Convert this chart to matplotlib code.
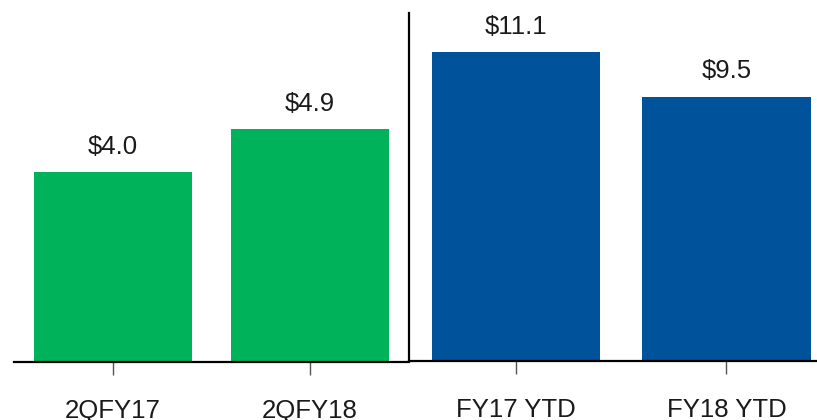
import matplotlib
matplotlib.use("Agg")
from matplotlib import pyplot as plt

plt.rcParams['font.family'] = ['Liberation Sans', 'DejaVu Sans']

# left panel - quarter
quarter_labels = ['2QFY17', '2QFY18']
quarter_values = [4.0, 4.9]

# right panel - year to date
ytd_labels = ['FY17 YTD', 'FY18 YTD']
ytd_values = [11.1, 9.5]

green = '#00B25A'
blue = '#00529B'
W, H = 817, 420

fig = plt.figure(figsize=(W / 100, H / 100), dpi=100)

ax1 = fig.add_axes([14 / W, (H - 362) / H, 395 / W, 362 / H])
ax2 = fig.add_axes([409 / W, (H - 361) / H, 408 / W, 348 / H])


def draw(ax, labels, values, color, xlim, ylim):
    x = range(len(values))
    bars = ax.bar(x, values, width=0.8, color=color, zorder=2)
    for b, v in zip(bars, values):
        ax.annotate(f'${v:.1f}', (b.get_x() + b.get_width() / 2, v),
                    xytext=(0, 13), textcoords='offset points',
                    ha='center', va='baseline', fontsize=18.5, color='#1a1a1a')
    ax.set_xlim(*xlim)
    ax.set_ylim(*ylim)
    ax.set_xticks(list(x))
    ax.set_xticklabels(labels, fontsize=18.5, color='#1a1a1a')
    ax.set_yticks([])
    ax.tick_params(axis='x', length=9.5, width=1, color='#555555',
                   direction='out', pad=17)
    for s in ['top', 'right', 'left']:
        ax.spines[s].set_visible(False)
    ax.spines['bottom'].set_linewidth(1.6)
    ax.patch.set_alpha(0)


draw(ax1, quarter_labels, quarter_values, green, (-0.503, 1.503), (0, 362 / 47.5))
draw(ax2, ytd_labels, ytd_values, blue, (-0.507, 1.43), (0, 12.5))
ax2.spines['left'].set_visible(True)
ax2.spines['left'].set_linewidth(1.6)

fig.savefig('out.png', dpi=100)
